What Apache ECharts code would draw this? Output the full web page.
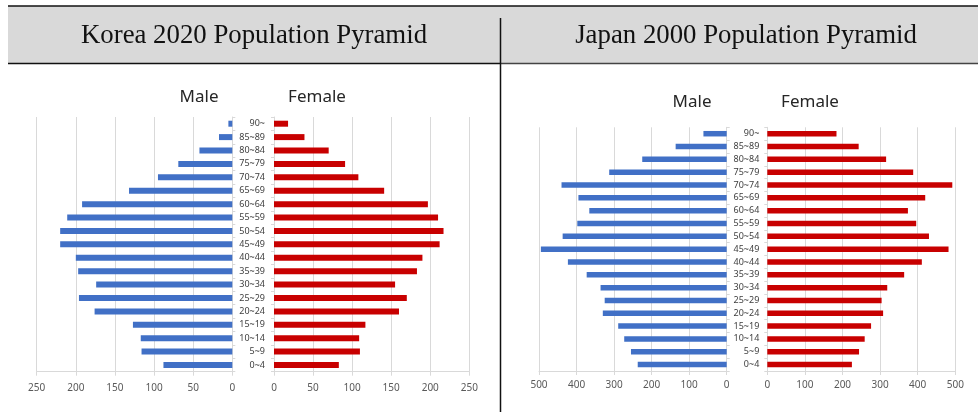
<!DOCTYPE html>
<html>
<head>
<meta charset="utf-8">
<script src="https://cdn.jsdelivr.net/npm/echarts@6/dist/echarts.min.js"></script>
<style>
  html, body { margin: 0; padding: 0; background: #ffffff; }
  #chart { width: 978px; height: 412px; }
</style>
</head>
<body>
<div id="chart"></div>
<script>
// Age groups, youngest at the bottom of each pyramid
const ageGroups = ['0~4', '5~9', '10~14', '15~19', '20~24', '25~29', '30~34', '35~39', '40~44',
  '45~49', '50~54', '55~59', '60~64', '65~69', '70~74', '75~79', '80~84', '85~89', '90~'];

// Korea 2020 (ten thousands)
const koreaMale = [88, 116, 117, 127, 176, 196, 174, 197, 200, 220, 220, 211, 192, 132, 95, 69, 42, 17, 5];
const koreaFemale = [83, 110, 109, 117, 160, 170, 155, 183, 190, 212, 217, 210, 197, 141, 108, 91, 70, 39, 18];

// Japan 2000 (ten thousands)
const japanMale = [237, 255, 273, 289, 330, 325, 336, 373, 423, 495, 437, 398, 366, 395, 440, 313, 225, 136, 62];
const japanFemale = [225, 244, 259, 276, 308, 304, 319, 364, 411, 482, 430, 396, 374, 420, 492, 388, 316, 243, 184];

const panelTitles = ['Korea 2020 Population Pyramid', 'Japan 2000 Population Pyramid'];
const sexLabels = ['Male', 'Female'];

const MALE = '#4170C6';
const FEMALE = '#C80000';
const GRID_LINE = '#D9D9D9';
const LABEL = '#595959';
const FONT = '"Noto Sans", sans-serif';
const TITLE_FONT = '26.8px "Liberation Serif", serif';

const chart = echarts.init(document.getElementById('chart'), null, { renderer: 'canvas' });

const grids = [
  { left: 36.7, top: 117, width: 195.6, height: 254.7 },   // Korea male
  { left: 274, top: 117, width: 195.3, height: 254.7 },    // Korea female
  { left: 539, top: 127.3, width: 187.7, height: 243.7 },  // Japan male
  { left: 767.3, top: 127.3, width: 188, height: 243.7 }   // Japan female
];

function valueAxis(gridIndex, max, interval, inverse, margin) {
  return {
    type: 'value', gridIndex, min: 0, max, interval, inverse,
    axisLine: { show: true, lineStyle: { color: GRID_LINE, width: 1 } },
    axisTick: { show: true, length: 4, lineStyle: { color: GRID_LINE } },
    splitLine: { show: true, lineStyle: { color: GRID_LINE, width: 1 } },
    axisLabel: { color: LABEL, fontSize: 10, fontFamily: FONT, margin }
  };
}

function categoryAxis(gridIndex, position, showLabels, margin) {
  return {
    type: 'category', gridIndex, position, data: ageGroups,
    axisLine: { show: true, lineStyle: { color: GRID_LINE, width: 1 } },
    axisTick: { show: true, length: 3, lineStyle: { color: GRID_LINE } },
    axisLabel: { show: showLabels, color: '#404040', fontSize: 9, fontFamily: FONT, margin, interval: 0 }
  };
}

function barSeries(idx, data, color, width) {
  return {
    type: 'bar', xAxisIndex: idx, yAxisIndex: idx, data,
    barWidth: width, itemStyle: { color }, silent: true
  };
}

const headerGraphics = [
  { type: 'rect', shape: { x: 8, y: 6, width: 970, height: 57.5 }, style: { fill: '#D9D9D9' }, silent: true },
  { type: 'line', shape: { x1: 8, y1: 6, x2: 978, y2: 6 }, style: { stroke: '#111', lineWidth: 1.5 }, silent: true },
  { type: 'line', shape: { x1: 8, y1: 63.5, x2: 500, y2: 63.5 }, style: { stroke: '#111', lineWidth: 1.5 }, silent: true },
  { type: 'line', shape: { x1: 500, y1: 63.5, x2: 978, y2: 63.5 }, style: { stroke: '#444', lineWidth: 1.5 }, silent: true },
  { type: 'line', shape: { x1: 500.5, y1: 18, x2: 500.5, y2: 412 }, style: { stroke: '#111', lineWidth: 1.5 }, silent: true },
  { type: 'text', x: 254, y: 36, style: { text: panelTitles[0], font: TITLE_FONT, fill: '#111', align: 'center', verticalAlign: 'middle' }, silent: true },
  { type: 'text', x: 746, y: 36, style: { text: panelTitles[1], font: TITLE_FONT, fill: '#111', align: 'center', verticalAlign: 'middle' }, silent: true },
  { type: 'text', x: 199, y: 97, style: { text: sexLabels[0], font: '17px ' + FONT, fill: '#262626', align: 'center', verticalAlign: 'middle' }, silent: true },
  { type: 'text', x: 317, y: 97, style: { text: sexLabels[1], font: '17px ' + FONT, fill: '#262626', align: 'center', verticalAlign: 'middle' }, silent: true },
  { type: 'text', x: 692, y: 102, style: { text: sexLabels[0], font: '17px ' + FONT, fill: '#262626', align: 'center', verticalAlign: 'middle' }, silent: true },
  { type: 'text', x: 810, y: 102, style: { text: sexLabels[1], font: '17px ' + FONT, fill: '#262626', align: 'center', verticalAlign: 'middle' }, silent: true }
];

chart.setOption({
  animation: false,
  backgroundColor: '#ffffff',
  grid: grids,
  xAxis: [
    valueAxis(0, 250, 50, true, 11),
    valueAxis(1, 250, 50, false, 11),
    valueAxis(2, 500, 100, true, 9),
    valueAxis(3, 500, 100, false, 9)
  ],
  yAxis: [
    categoryAxis(0, 'right', false, 8),
    categoryAxis(1, 'left', true, 9),
    categoryAxis(2, 'right', false, 8),
    categoryAxis(3, 'left', true, 8)
  ],
  series: [
    barSeries(0, koreaMale, MALE, 6),
    barSeries(1, koreaFemale, FEMALE, 6),
    barSeries(2, japanMale, MALE, 5.5),
    barSeries(3, japanFemale, FEMALE, 5.5)
  ],
  graphic: headerGraphics
});
</script>
</body>
</html>
